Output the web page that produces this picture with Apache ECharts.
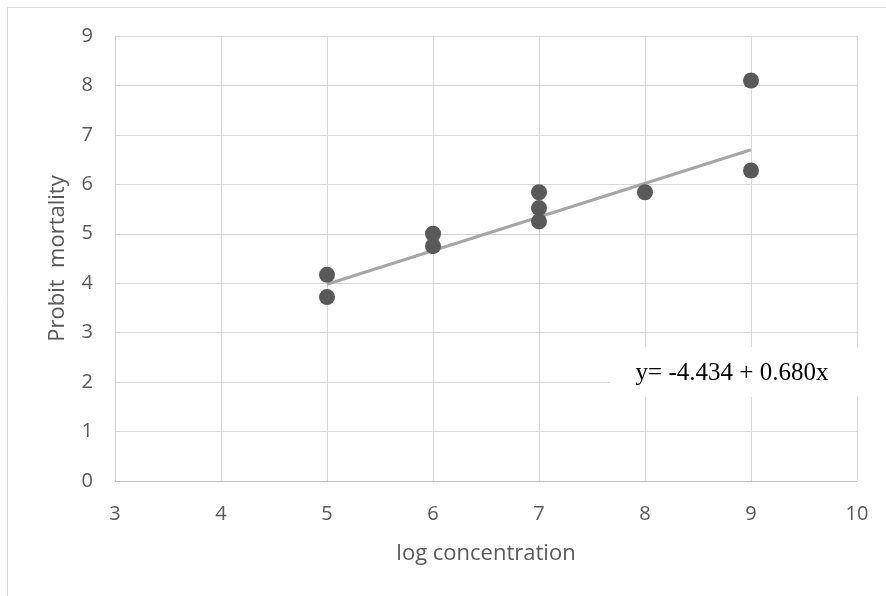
<!DOCTYPE html>
<html lang="en">
<head>
    <meta charset="UTF-8">
    <title>Probit mortality</title>
    <script src="https://cdn.jsdelivr.net/npm/echarts@6.0.0/dist/echarts.min.js"></script>
    <style>
        html, body { margin: 0; padding: 0; background: #fff; }
        #chart { width: 886px; height: 596px; }
    </style>
</head>
<body>
    <div id="chart"></div>
    <script>
        // observed points
        var logConc = [5, 5, 6, 6, 7, 7, 7, 8, 9, 9];
        var probit = [4.17, 3.72, 5.0, 4.75, 5.84, 5.52, 5.25, 5.84, 8.1, 6.28];
        // fitted line ends, as drawn
        var fitX = [5, 9];
        var fitY = [3.98, 6.70];
        var equationText = 'y= -4.434 + 0.680x';

        var points = logConc.map(function (x, i) { return [x, probit[i]]; });
        var fitLine = fitX.map(function (x, i) { return [x, fitY[i]]; });

        var myChart = echarts.init(document.getElementById('chart'));
        var option = {
            animation: false,
            backgroundColor: '#fff',
            grid: { left: 115, right: 29, top: 36, bottom: 115 },
            xAxis: {
                type: 'value',
                min: 3, max: 10, interval: 1,
                name: 'log concentration',
                nameLocation: 'middle',
                nameGap: 62,
                nameTextStyle: { color: '#595959', fontSize: 22, fontFamily: 'Open Sans' },
                axisLine: { show: true, lineStyle: { color: '#bfbfbf', width: 1 } },
                axisTick: { show: false },
                axisLabel: { color: '#595959', fontSize: 20, margin: 23, fontFamily: 'Open Sans' },
                splitLine: { show: true, lineStyle: { color: '#d9d9d9', width: 1 } }
            },
            yAxis: {
                type: 'value',
                min: 0, max: 9, interval: 1,
                name: 'Probit  mortality',
                nameLocation: 'middle',
                nameGap: 46,
                nameTextStyle: { color: '#595959', fontSize: 22, fontFamily: 'Open Sans' },
                axisLine: { show: true, lineStyle: { color: '#d0d0d0', width: 1 } },
                axisTick: { show: false },
                axisLabel: { color: '#595959', fontSize: 20, margin: 22, fontFamily: 'Open Sans' },
                splitLine: { show: true, lineStyle: { color: '#d9d9d9', width: 1 } }
            },
            series: [
                {
                    type: 'line',
                    data: fitLine,
                    symbol: 'none',
                    lineStyle: { color: '#a6a6a6', width: 3 },
                    z: 2
                },
                {
                    type: 'scatter',
                    data: points,
                    symbolSize: 16,
                    itemStyle: { color: '#595959', opacity: 1 },
                    z: 3
                }
            ],
            graphic: [
                {
                    type: 'rect',
                    shape: { x: 7.5, y: 7.5, width: 900, height: 600 },
                    style: { fill: 'none', stroke: '#d9d9d9', lineWidth: 1 },
                    silent: true,
                    z: 0
                },
                {
                    type: 'rect',
                    shape: { x: 610, y: 347, width: 250, height: 50 },
                    style: { fill: '#fff' },
                    z: 10
                },
                {
                    type: 'text',
                    x: 732, y: 373,
                    style: {
                        text: equationText,
                        fill: '#000',
                        font: '25px "Liberation Serif"',
                        textAlign: 'center',
                        textVerticalAlign: 'middle'
                    },
                    z: 11
                }
            ]
        };
        myChart.setOption(option);
    </script>
</body>
</html>
